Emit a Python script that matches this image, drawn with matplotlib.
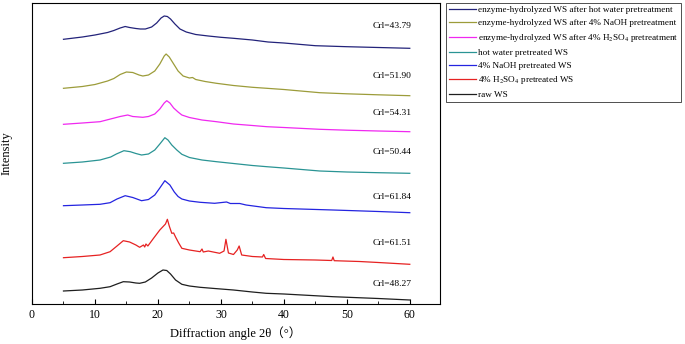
import matplotlib
matplotlib.use('Agg')
import matplotlib.pyplot as plt
from matplotlib.ticker import MultipleLocator

plt.rcParams['font.family'] = ['Liberation Serif', 'Noto Sans CJK SC']
plt.rcParams['mathtext.fontset'] = 'stix'

# curves (arbitrary intensity, already stacked)
x_ehw = [5, 8, 10, 12, 13, 14, 14.8, 15.5, 16.5, 17.2, 18, 19, 19.8, 20.5, 21, 21.5, 22, 22.7,
         23.5, 24.5, 26, 28, 30, 32, 35, 37.5, 40, 45, 50, 55, 60]
y_ehw = [264.7, 267, 269, 271.5, 273.5, 276, 277.5, 276.5, 275.5, 275, 275, 277, 281, 286, 288,
         287.5, 285, 280, 275, 272, 269.5, 268, 266.7, 265.7, 264, 262, 261, 258.3, 257.3, 256.5, 255.7]

x_ena = [5, 8, 10, 12, 13, 14, 15, 16, 17, 17.6, 18.5, 19.5, 20.3, 21, 21.3, 21.8, 22.5, 23.2,
         24, 25, 25.5, 26, 27.5, 29.3, 32, 35, 37.3, 40, 45.7, 50, 55, 60]
y_ena = [215.7, 217.5, 219.5, 223, 225.5, 229.5, 232, 231.5, 229, 228, 229, 233, 240, 248, 250,
         247, 240, 233, 228, 226, 226.5, 224.5, 222.5, 220.7, 218.5, 216.7, 215.7, 214.5, 211.3,
         210.2, 209.2, 208.3]

x_eh2 = [5, 8, 10.8, 12.9, 14, 15.2, 16, 17, 17.6, 18.5, 19.5, 20.3, 21, 21.4, 21.9, 22.5, 23.2,
         23.8, 25, 27, 29.3, 32, 35, 37.3, 40, 45.7, 50, 55, 60]
y_eh2 = [179.7, 181, 182.3, 185.7, 187.5, 189, 187.5, 187, 186.7, 187.5, 190, 195, 201, 203.3,
         201, 196, 192, 189, 186.5, 184, 182.3, 180, 178.5, 177.3, 176.5, 174.7, 173.8, 173, 172.3]

x_hw = [5, 8, 10.8, 12.5, 13.4, 14.6, 15.6, 16.5, 17.4, 18.5, 19.5, 20.3, 21.1, 21.6, 22.2, 23,
        23.8, 25, 27, 29.3, 32, 35, 37.3, 40, 45.7, 50, 55, 60]
y_hw = [140.7, 142, 144, 147, 150, 153.3, 152.3, 150.5, 149, 150, 154, 160, 166.3, 164, 159, 154,
        149.7, 146.5, 144, 142.3, 140.5, 138.5, 137.3, 136, 133, 132, 131.3, 130.7]

x_na = [5, 8, 10.8, 12.4, 13.5, 14.8, 16, 17.4, 18.5, 19.5, 20.3, 21.1, 21.9, 22.6, 23.2, 23.8,
        25, 26.7, 29, 30.9, 31.5, 33, 34, 37.2, 40, 47.8, 55, 60]
y_na = [98.3, 99, 99.7, 101.3, 105, 108.3, 106.5, 103.3, 104.5, 109, 116, 123.3, 119, 112, 107.5,
        105, 103, 101.7, 100.7, 102, 100.5, 100.5, 99, 96.3, 95.5, 94, 92.5, 91.3]

x_h2 = [5, 8, 10.8, 12.4, 13.5, 14.5, 15.5, 16.5, 17.1, 17.7, 17.9, 18.1, 18.4, 19.3, 20.3, 21.2,
        21.5, 21.8, 22.2, 22.5, 22.8, 23.3, 23.8, 25, 26.7, 27, 27.2, 28, 29.8, 30.5, 30.8, 31.2,
        32, 32.6, 32.9, 33.3, 35, 36.6, 36.8, 37.1, 40, 45, 47.6, 47.8, 48, 52, 55, 60]
y_h2 = [46.3, 47.5, 49, 52.3, 58, 63.3, 62, 59, 56.7, 59, 57, 60, 58, 65.7, 74, 80, 84.7, 78, 70.7,
        71, 67, 61, 55.7, 54, 52.3, 55, 52, 53, 50.7, 53, 64.7, 51, 49.5, 54, 58, 49, 47.5, 47, 49.5,
        45.5, 44.5, 44, 43.5, 47, 43.3, 42.5, 41.5, 39.7]

x_raw = [5, 8, 10.8, 12.4, 13.5, 14.5, 15.5, 16.5, 17.1, 18, 19, 20, 20.8, 21.4, 22, 22.8, 23.8,
         25, 26.7, 29, 32, 35, 37.2, 40, 47.8, 55, 60]
y_raw = [13, 14, 15.7, 17.3, 20, 22.3, 22, 21, 20.7, 22, 26, 31, 34, 33.5, 30, 24, 19.7, 18, 16.7,
         15.5, 14, 12, 10.7, 10, 7.3, 5.5, 4]

labels = ['enzyme-hydrolyzed WS after hot water pretreatment',
          'enzyme-hydrolyzed WS after 4% NaOH pretreatment',
          r'enzyme-hydrolyzed WS after 4% H$_2$SO$_4$ pretreatment',
          'hot water pretreated WS',
          '4% NaOH pretreated WS',
          r'4% H$_2$SO$_4$ pretreated WS',
          'raw WS']
crl = ['Crl=43.79', 'Crl=51.90', 'Crl=54.31', 'Crl=50.44', 'Crl=61.84', 'Crl=61.51', 'Crl=48.27']
crl_y = [278, 228, 190.7, 152.3, 107.3, 61.3, 19.7]
colors = ['#23237a', '#9c9c3a', '#f028f0', '#2a9494', '#2424e0', '#e62222', '#1e1e1e']

xs = [x_ehw, x_ena, x_eh2, x_hw, x_na, x_h2, x_raw]
ys = [y_ehw, y_ena, y_eh2, y_hw, y_na, y_h2, y_raw]

fig = plt.figure(figsize=(6.85, 3.44), dpi=100)
ax = fig.add_axes([32 / 685, 40 / 344, 408 / 685, 301 / 344])

for x, y, c, lab in zip(xs, ys, colors, labels):
    ax.plot(x, y, color=c, lw=0.9, label=lab)

for t, yy in zip(crl, crl_y):
    ax.text(60.3, yy, t, ha='right', va='center', fontsize=6.8)

ax.set_xlim(0, 64.8)
ax.set_ylim(0, 301)
ax.xaxis.set_major_locator(MultipleLocator(10))
ax.xaxis.set_minor_locator(MultipleLocator(5))
ax.tick_params(axis='x', which='both', direction='in', labelsize=8.5)
ax.tick_params(axis='x', which='major', length=3.5)
ax.tick_params(axis='x', which='minor', length=2)
ax.set_yticks([])
ax.set_xlabel('Diffraction angle 2θ（°）', fontsize=9, labelpad=4)
ax.set_ylabel('Intensity', fontsize=9, labelpad=14)

leg = ax.legend(loc='upper left', bbox_to_anchor=(446 / 685, 1 - 3 / 344),
                bbox_transform=fig.transFigure, fontsize=6.6, frameon=True, fancybox=False,
                edgecolor='black', borderaxespad=0, handlelength=3.0, handletextpad=0.2,
                labelspacing=0.5, borderpad=0.3)
leg.get_frame().set_linewidth(0.6)

plt.savefig('out.png', dpi=100)
